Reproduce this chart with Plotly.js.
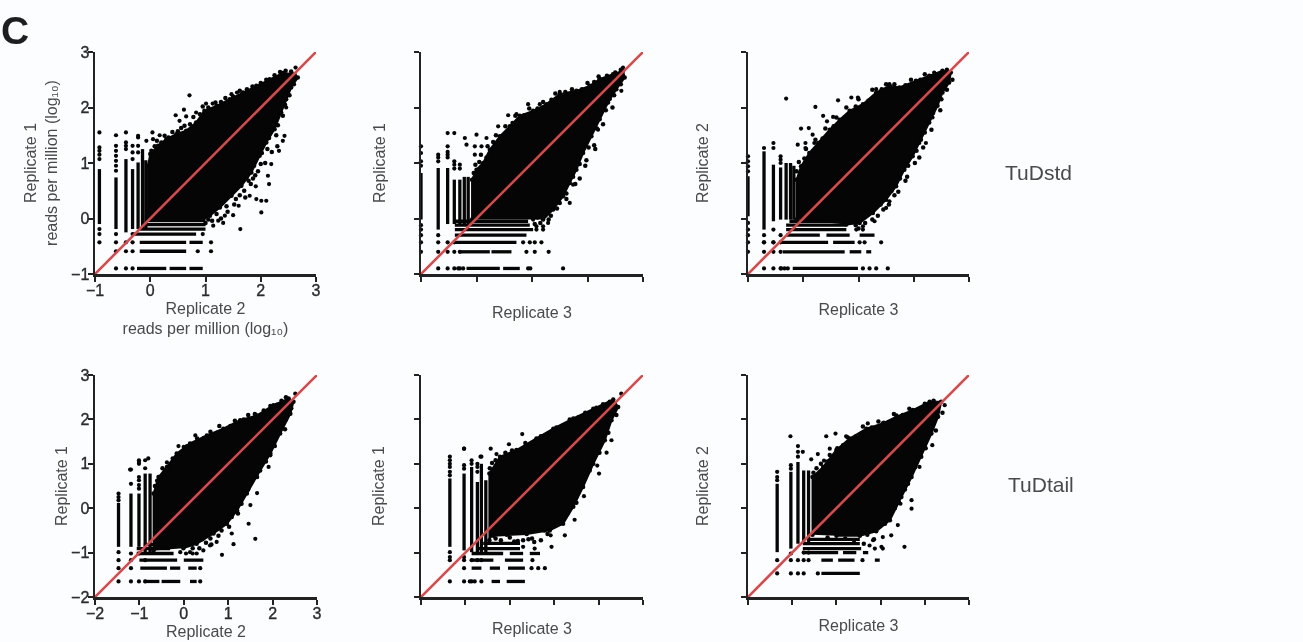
<!DOCTYPE html>
<html><head><meta charset="utf-8">
<script src="https://cdn.plot.ly/plotly-3.0.1.min.js"></script>
<style>html,body{margin:0;padding:0;background:#fcfdfe}#g{filter:blur(0.5px)}
#g g[class$="tick"] text{stroke:#2b2b2b;stroke-width:.35px}</style></head>
<body><div id="g" style="width:1303px;height:642px"></div>
<script>
// TuDstd, Replicate 1 vs Replicate 2
const p1BlobX=[-0.04,-0.04,0,0.14,0.29,0.47,0.65,0.83,0.98,1.2,1.44,1.68,1.92,2.16,2.4,2.61,2.67,2.55,2.46,2.37,2.25,2.1,1.98,1.83,1.65,1.47,1.26,1.08,0.95];
const p1BlobY=[-0.02,0.95,1.16,1.31,1.43,1.52,1.58,1.73,1.94,2.03,2.15,2.27,2.39,2.51,2.62,2.6,2.54,2.36,2.15,1.91,1.61,1.37,1.13,0.83,0.59,0.41,0.2,0.05,-0.02];
const p1EdgeX=[0.02,0.08,0.12,0.2,0.26,0.33,0.4,0.5,0.56,0.62,0.72,0.78,0.9,0.95,1.05,1.18,1.28,1.36,1.5,1.62,1.75,1.85,2,2.1,2.25,2.35,2.45,2.55,2.6,2.52,2.44,2.4,2.31,2.28,2.15,2.12,2.02,2,1.88,1.86,1.75,1.7,1.58,1.55,1.42,1.38,1.3,1.2,1.12,1.05,1.28,1.95,1.72,1.52,1.4,1.82,2.2,2.08,2.3,1.12,1,1.62,1.78,1.9];
const p1EdgeY=[1.22,1.3,1.4,1.37,1.49,1.46,1.56,1.57,1.63,1.67,1.7,1.83,1.88,2.02,2,2.09,2.1,2.17,2.2,2.3,2.33,2.38,2.44,2.5,2.58,2.64,2.66,2.65,2.42,2.22,2.05,1.85,1.68,1.5,1.45,1.25,1.18,0.98,0.95,0.72,0.75,0.5,0.6,0.35,0.42,0.22,0.28,0.08,0.16,-0.02,0,0.85,0.38,0.25,0.12,0.62,1.2,1,1.3,-0.04,-0.08,0.42,0.68,0.78];
const p1ColX=[-0.92,-0.92,null,-0.62,-0.62,null,-0.44,-0.44,null,-0.32,-0.32,null,-0.22,-0.22,null,-0.14,-0.14,null,-0.08,-0.08];
const p1ColY=[0.89,-0.1,null,0.74,-0.19,null,1.07,-0.25,null,0.89,-0.19,null,1.01,-0.19,null,1.25,-0.19,null,1.05,-0.19];
const p1RowX=[-0.24,0.29,null,0.35,0.65,null,0.71,0.95,null,-0.19,0.65,null,-0.19,0.65,null,0.71,0.95,null,-0.31,0.83,null,-0.19,1,null,-0.13,1,null,-0.07,1];
const p1RowY=[-0.9,-0.9,null,-0.9,-0.9,null,-0.9,-0.9,null,-0.59,-0.59,null,-0.43,-0.43,null,-0.43,-0.43,null,-0.28,-0.28,null,-0.19,-0.19,null,-0.11,-0.11,null,-0.04,-0.04];
const p1DotX=[-0.92,-0.92,-0.92,-0.92,-0.92,-0.92,-0.92,-0.92,-0.62,-0.62,-0.62,-0.62,-0.62,-0.62,-0.62,-0.62,-0.62,-0.62,-0.62,-0.44,-0.44,-0.44,-0.44,-0.44,-0.44,-0.44,-0.32,-0.32,-0.32,-0.32,-0.32,-0.32,-0.32,-0.22,-0.22,-0.22,0.86,1.1,1.1,0.95,0.71,0.61,0.46,0.83,0.53,0.65,1.01,1.13,1.57,1.47,2.4,2.43,2.33,2.19,2.13,2.15,1.91,1.8,1.92,2.01,2.1,2.01,1.63,1.6,1.5,1.35,1.32,1.14,1.23,2.46,2.63,0.05,-0.07,0.04,0.17,-0.22];
const p1DotY=[1.55,1.28,1.22,1.15,1.07,-0.19,-0.28,-0.43,1.5,1.31,1.22,1.13,1.04,0.95,0.86,-0.28,-0.43,-0.59,-0.9,1.55,1.37,1.31,1.25,-0.43,-0.59,-0.9,-0.28,1.31,1.19,1.07,-0.43,-0.59,-0.9,1.49,1.31,1.19,-0.59,-0.59,-0.43,-0.28,2.22,1.96,1.86,1.91,1.76,1.84,2.07,2.07,2.27,2.24,1.4,1.49,1.22,0.98,0.77,0.62,0.58,0.41,0.35,0.32,0.32,0.11,-0.19,0.23,0.06,0.05,-0.08,-0.13,-0.04,2,2.72,1.43,1.4,1.55,1.5,1.46];

// TuDstd, Replicate 1 vs Replicate 3
const p2BlobX=[-0.08,-0.08,0,0.12,0.24,0.42,0.6,0.78,1.02,1.26,1.5,1.8,2.04,2.22,2.46,2.64,2.67,2.52,2.37,2.22,2.07,1.92,1.8,1.68,1.56,1.38,1.2];
const p2BlobY=[-0.02,0.7,0.88,1,1.24,1.48,1.66,1.85,1.94,2.06,2.24,2.3,2.39,2.51,2.6,2.66,2.54,2.33,2.09,1.79,1.48,1.18,0.88,0.64,0.4,0.16,-0.02];
const p2EdgeX=[-0.05,-0.02,0.05,0.08,0.18,0.2,0.3,0.35,0.48,0.52,0.65,0.7,0.86,0.95,1.1,1.2,1.35,1.42,1.6,1.72,1.9,2,2.12,2.2,2.35,2.5,2.6,2.6,2.48,2.45,2.33,2.28,2.17,2.12,2.02,1.98,1.86,1.86,1.74,1.62,1.55,1.5,1.42,1.34,1.25,1.15,1.1,1.78,1.62,1.45,1.96,2.14,1.3,1.05];
const p2EdgeY=[0.82,0.97,1.02,1.15,1.1,1.3,1.38,1.5,1.45,1.66,1.72,1.85,1.86,1.98,1.98,2.1,2.14,2.25,2.28,2.33,2.33,2.44,2.46,2.56,2.57,2.63,2.68,2.42,2.22,2,1.95,1.7,1.62,1.32,1.28,1.05,0.98,0.72,0.75,0.45,0.52,0.28,0.3,0.05,0.1,-0.08,0.02,0.62,0.35,0.18,0.95,1.25,-0.02,-0.1];
const p2ColX=[-1,-1,null,-0.69,-0.69,null,-0.52,-0.52,null,-0.4,-0.4,null,-0.3,-0.3,null,-0.22,-0.22,null,-0.15,-0.15];
const p2ColY=[0.82,-0.02,null,0.91,-0.2,null,0.91,-0.1,null,0.7,-0.1,null,0.7,-0.1,null,0.75,-0.1,null,0.75,-0.1];
const p2RowX=[-0.18,0.42,null,0.48,0.78,null,-0.3,0.24,null,0.27,0.63,null,-0.39,0.72,null,-0.39,0.9,null,-0.39,1.02,null,-0.39,0.96,null,-0.39,0.93];
const p2RowY=[-0.9,-0.9,null,-0.9,-0.9,null,-0.6,-0.6,null,-0.6,-0.6,null,-0.43,-0.43,null,-0.3,-0.3,null,-0.2,-0.2,null,-0.12,-0.12,null,-0.05,-0.05];
const p2DotX=[-1,-1,-1,-1,-1,-1,-1,-1,-1,-0.69,-0.69,-0.69,-0.69,-0.69,-0.69,-0.69,-0.52,-0.52,-0.52,-0.52,-0.52,-0.52,-0.52,-0.4,-0.4,-0.4,-0.4,-0.4,-0.4,-0.3,-0.3,-0.3,-0.3,-0.33,-0.24,0.93,0.97,1.56,0.9,1.05,1.3,0.84,0.96,1.05,1.17,1.08,1.2,-0.52,-0.4,0,-0.21,0.93,1.14,1.5,0.57,0.72,0.39,0.18,1.68,1.74,1.2,1.29,1.02,1.08,2.19,2.4,2.61,2.64,2.22,-0.03,-0.18,-0.03,0.09];
const p2DotY=[1.3,1.18,1.03,0.95,-0.12,-0.2,-0.3,-0.43,-0.6,1.15,1.1,1.03,-0.3,-0.43,-0.6,-0.9,1.3,1.2,1.15,1.1,-0.43,-0.6,-0.9,1.03,0.97,0.9,-0.43,-0.6,-0.9,0.97,0.9,-0.6,-0.9,-0.9,-0.9,-0.9,-0.9,-0.9,-0.6,-0.6,-0.6,-0.43,-0.43,-0.43,-0.43,-0.2,-0.2,1.54,1.54,1.51,1.45,2.06,2.06,2.28,1.86,1.88,1.66,1.45,0.28,0.61,-0.14,-0.08,-0.02,-0.14,1.6,2.15,2.3,2.72,2.52,1.3,1.33,1.15,1.3];

// TuDstd, Replicate 2 vs Replicate 3
const p3BlobX=[-0.12,-0.12,-0.04,0.11,0.27,0.48,0.66,0.84,1.08,1.32,1.56,1.74,2.04,2.28,2.52,2.67,2.64,2.52,2.43,2.28,2.13,1.98,1.83,1.68,1.5,1.26,1.02,0.78];
const p3BlobY=[-0.02,0.7,0.94,1.18,1.36,1.6,1.78,1.94,2.06,2.27,2.39,2.36,2.48,2.57,2.66,2.63,2.45,2.27,2.03,1.73,1.42,1.12,0.88,0.58,0.34,0.1,-0.08,-0.11];
const p3EdgeX=[-0.12,-0.08,0.02,0.05,0.18,0.22,0.35,0.4,0.55,0.6,0.75,0.78,0.95,1,1.18,1.25,1.42,1.5,1.65,1.85,1.95,2.12,2.2,2.4,2.6,2.7,2.6,2.5,2.48,2.35,2.32,2.2,2.17,2.05,2.02,1.9,1.88,1.75,1.72,1.6,1.55,1.4,1.35,1.2,1.12,0.95,1.65,1.45,1.85,2.1,1.25,1];
const p3EdgeY=[0.85,1.02,1.08,1.25,1.22,1.42,1.44,1.62,1.66,1.82,1.82,2,2.02,2.15,2.12,2.32,2.33,2.42,2.42,2.4,2.5,2.5,2.6,2.6,2.68,2.5,2.32,2.15,1.95,1.9,1.6,1.55,1.28,1.22,1,0.95,0.75,0.72,0.48,0.5,0.25,0.25,0.05,0.1,-0.08,-0.12,0.42,0.16,0.68,1.1,-0.02,-0.18];
const p3ColX=[-1,-1,null,-0.71,-0.71,null,-0.54,-0.54,null,-0.41,-0.41,null,-0.31,-0.31,null,-0.23,-0.23,null,-0.17,-0.17];
const p3ColY=[0.76,0.04,null,1.21,-0.2,null,0.97,-0.05,null,0.92,-0.02,null,1,-0.02,null,1,-0.02,null,0.95,-0.02];
const p3RowX=[-0.19,0.99,null,-0.37,0.75,null,0.84,1.05,null,1.14,1.23,null,-0.43,0.45,null,0.54,0.93,null,-0.31,0.3,null,0.42,0.84,null,1.02,1.29,null,-0.31,0.78,null,-0.31,0.78,null,-0.25,0.78];
const p3RowY=[-0.9,-0.9,null,-0.6,-0.6,null,-0.6,-0.6,null,-0.6,-0.6,null,-0.43,-0.43,null,-0.43,-0.43,null,-0.3,-0.3,null,-0.3,-0.3,null,-0.3,-0.3,null,-0.2,-0.2,null,-0.12,-0.12,null,-0.05,-0.05];
const p3DotX=[-1,-1,-1,-1,-1,-1,-1,-1,-1,-0.71,-0.71,-0.71,-0.71,-0.71,-0.54,-0.54,-0.54,-0.54,-0.54,-0.54,-0.41,-0.41,-0.41,-0.41,-0.41,-0.41,-0.41,-0.4,-0.34,-0.28,1.08,1.2,1.32,1.53,-0.71,-0.54,1.02,1.11,1.41,0.96,1.08,-0.31,0.22,0.63,0.87,0.99,0.36,0.54,0.43,-0.04,0.1,-0.1,0.04,0.04,0.2,0.17,1.32,1.56,2.37,2.64,2.1,2.22,1.56,1.5,1.29,1.08,2.34];
const p3DotY=[1.12,1.03,0.94,0.85,-0.08,-0.2,-0.3,-0.43,-0.6,1.27,-0.3,-0.43,-0.6,-0.9,1.36,1.27,-0.2,-0.43,-0.6,-0.9,1.12,1.06,1,-0.3,-0.43,-0.6,-0.9,-0.9,-0.9,-0.9,-0.9,-0.9,-0.9,-0.9,-0.43,-0.43,-0.43,-0.43,-0.43,-0.2,-0.2,2.16,2.01,2.13,2.18,2.18,1.85,1.83,1.75,1.62,1.63,1.33,1.36,1.27,1.36,1.51,2.33,2.42,2.63,2.63,1.36,1.36,0.31,0.19,-0.05,-0.14,1.82];

// TuDtail, Replicate 1 vs Replicate 2
const p4BlobX=[-0.68,-0.68,-0.57,-0.38,-0.16,0.14,0.52,0.89,1.27,1.65,2.02,2.36,2.47,2.4,2.17,1.95,1.72,1.42,1.2,0.97,0.67,0.29,-0.01];
const p4BlobY=[-0.95,0.33,0.7,0.93,1.23,1.46,1.64,1.79,1.98,2.09,2.32,2.47,2.4,2.13,1.68,1.23,0.85,0.33,-0.05,-0.35,-0.57,-0.8,-0.9];
const p4EdgeX=[-0.65,-0.6,-0.5,-0.48,-0.3,-0.25,-0.08,0,0.2,0.3,0.45,0.6,0.75,0.8,1.05,1.15,1.35,1.45,1.6,1.8,1.95,2.1,2.2,2.3,2.42,2.3,2.28,2.1,2.05,1.92,1.85,1.72,1.65,1.52,1.45,1.35,1.3,1.15,1.08,0.95,0.85,0.72,0.6,0.42,0.2,0.1,1.02,0.78,0.5,1.22,0.35,0.62];
const p4EdgeY=[0.5,0.62,0.72,0.9,0.92,1.12,1.22,1.38,1.42,1.57,1.58,1.72,1.7,1.85,1.85,1.97,2,2.1,2.12,2.2,2.3,2.33,2.42,2.5,2.25,2,1.78,1.7,1.4,1.35,1.05,1,0.7,0.65,0.42,0.35,0.1,0.05,-0.2,-0.2,-0.5,-0.42,-0.68,-0.7,-0.9,-0.8,-0.42,-0.62,-0.78,-0.12,-0.9,-0.82];
const p4ColX=[-1.47,-1.47,null,-1.19,-1.19,null,-1.01,-1.01,null,-0.87,-0.87,null,-0.76,-0.76];
const p4ColY=[0.12,-0.87,null,0.33,-0.87,null,0.33,-0.87,null,0.78,-0.99,null,0.78,-0.99];
const p4RowX=[-0.9,-0.55,null,-0.5,-0.08,null,0.14,0.29,null,-0.98,-0.38,null,-0.31,-0.08,null,0.1,0.29,null,-1,-0.15,null,0,0.44,null,-1.06,-0.23,null,-1.06,-0.31,null,-0.9,-0.3];
const p4RowY=[-1.65,-1.65,null,-1.65,-1.65,null,-1.65,-1.65,null,-1.35,-1.35,null,-1.35,-1.35,null,-1.35,-1.35,null,-1.17,-1.17,null,-1.17,-1.17,null,-1.02,-1.02,null,-0.91,-0.91,null,-0.82,-0.82];
const p4DotX=[-1.47,-1.47,-1.47,-1.47,-1.47,-1.47,-1.47,-1.19,-1.19,-1.19,-1.19,-1.19,-1.19,-1.01,-1.01,-1.01,-1.01,-1.01,-1.01,-1.01,-1.01,-0.87,-0.87,-0.87,-0.87,0.37,0.37,-1.21,-1.01,-0.8,-0.38,-0.12,0.07,0.26,1.61,1.12,0.86,1.46,1.08,1.65,1.95,1.91,2.51,1.5,0.74,0.59,0.29,0.14,-0.08,0.44,0.05,0.2];
const p4DotY=[0.33,0.25,0.18,-0.99,-1.17,-1.35,-1.65,0.87,0.55,-1.02,-1.17,-1.35,-1.65,1.08,1,0.7,0.63,0.52,0.44,-1.02,-1.65,1.08,0.9,-1.17,-1.65,-1.65,-1.35,0.87,1.04,1.12,1.03,1.4,1.4,1.64,-0.69,-0.81,-1.05,-0.35,-0.57,0.34,1.19,0.93,2.58,0.07,-0.76,-0.84,-1.02,-0.99,-0.99,-0.95,-1.02,-1.02];

// TuDtail, Replicate 1 vs Replicate 3
const p5BlobX=[-0.46,-0.46,-0.22,0.15,0.6,0.98,1.43,1.88,2.33,2.44,2.29,2.14,1.88,1.65,1.43,1.2,0.9,0.38,-0.07,-0.37];
const p5BlobY=[-0.72,0.78,1.16,1.31,1.57,1.79,2.02,2.24,2.45,2.28,1.98,1.53,1,0.48,0.03,-0.35,-0.5,-0.58,-0.6,-0.62];
const p5EdgeX=[-0.45,-0.4,-0.32,-0.15,-0.1,0.05,0.25,0.35,0.5,0.7,0.85,1.05,1.2,1.35,1.55,1.7,1.95,2.1,2.25,2.4,2.2,2.22,2.05,2.02,1.85,1.8,1.62,1.58,1.42,1.38,1.3,1.15,1.05,0.95,0.78,0.7,0.5,0.3,0.1,-0.2,0,0.18,0.42,0.55,-0.32,1.1,0.85,1.5];
const p5EdgeY=[0.9,1.02,1.08,1.12,1.25,1.3,1.3,1.47,1.45,1.62,1.67,1.82,1.86,2,2.05,2.15,2.26,2.34,2.4,2.1,1.95,1.7,1.58,1.25,1.15,0.85,0.72,0.42,0.3,0.08,-0.12,-0.1,-0.3,-0.42,-0.5,-0.72,-0.68,-0.72,-0.75,-0.72,-0.66,-0.74,-0.7,-0.76,-0.68,-0.26,-0.58,0.12];
const p5ColX=[-1.35,-1.35,null,-1.03,-1.03,null,-0.86,-0.86,null,-0.73,-0.73,null,-0.64,-0.64,null,-0.54,-0.54];
const p5ColY=[0.67,-0.87,null,0.78,-0.95,null,0.93,-0.99,null,0.59,-0.99,null,1,-0.99,null,0.63,-0.99];
const p5RowX=[-0.41,-0.22,null,-0.07,0.34,null,-0.86,-0.64,null,-0.45,-0.22,null,-0.04,0.34,null,-0.86,-0.37,null,-0.11,0.3,null,-0.86,-0.15,null,0,0.3,null,0.45,0.68,null,-0.75,0.23,null,-0.6,0.23];
const p5RowY=[-1.65,-1.65,null,-1.65,-1.65,null,-1.35,-1.35,null,-1.35,-1.35,null,-1.35,-1.35,null,-1.17,-1.17,null,-1.17,-1.17,null,-1.02,-1.02,null,-1.02,-1.02,null,-1.02,-1.02,null,-0.91,-0.91,null,-0.79,-0.79];
const p5DotX=[-1.35,-1.35,-1.35,-1.35,-1.35,-1.35,-1.35,-1.35,-1.35,-1.35,-1.03,-1.03,-1.03,-1.03,-1.03,-1.03,-1.03,-0.86,-0.86,-0.86,-0.86,-0.73,-0.73,-0.73,-0.73,-0.64,-0.64,-0.9,-0.79,-0.64,0.49,0.64,0.79,0.51,0.28,-0.02,-0.43,-1.03,-0.66,-0.3,2.51,2.29,2.18,2.01,1.97,1.67,1.46,1.28,1.24,0.94,0.92,0.56,0.3,-0.34];
const p5DotY=[1.16,1.08,1,0.93,0.82,0.74,-0.99,-1.1,-1.17,-1.65,1.34,0.97,0.89,-1.1,-1.17,-1.35,-1.65,1.08,1,-1.17,-1.65,1,0.93,0.82,-1.17,1.16,-1.17,-1.65,-1.65,-1.65,-1.35,-1.35,-1.35,-1.17,1.67,1.44,1.34,1.34,1.16,1.22,2.58,1.53,1.25,0.78,0.96,0.27,-0.26,-0.06,-0.61,-0.87,-0.61,-0.91,-0.87,0.74];

// TuDtail, Replicate 2 vs Replicate 3
const p6BlobX=[-0.54,-0.54,-0.3,0,0.3,0.68,1.05,1.36,1.73,2.11,2.37,2.3,2.15,1.92,1.7,1.47,1.21,0.9,0.53,0];
const p6BlobY=[-0.6,0.7,0.93,1.31,1.57,1.79,1.91,2.06,2.21,2.4,2.4,2.06,1.68,1.16,0.7,0.25,-0.27,-0.52,-0.62,-0.62];
const p6EdgeX=[-0.52,-0.45,-0.35,-0.2,-0.15,0.02,0.15,0.25,0.45,0.6,0.8,0.95,1.15,1.3,1.5,1.65,1.85,2,2.2,2.4,2.2,2.25,2.05,2.02,1.8,1.78,1.58,1.55,1.35,1.32,1.12,1.1,0.95,0.85,0.7,0.62,0.4,1.42,1.62,0.2,-0.2];
const p6EdgeY=[0.8,0.9,1,1.05,1.2,1.35,1.42,1.6,1.62,1.84,1.82,1.95,1.92,2.12,2.1,2.24,2.22,2.35,2.42,2.15,2,1.75,1.6,1.35,1.2,0.92,0.7,0.42,0.25,0,-0.05,-0.35,-0.4,-0.7,-0.6,-0.8,-0.78,0.12,0.55,-0.68,-0.66];
const p6ColX=[-1.34,-1.34,null,-1.03,-1.03,null,-0.87,-0.87,null,-0.74,-0.74,null,-0.63,-0.63];
const p6ColY=[0.55,-0.99,null,0.82,-0.91,null,1.04,-0.8,null,0.85,-0.8,null,0.85,-0.8];
const p6RowX=[-0.34,0.53,null,-0.34,-0.08,null,0.04,0.41,null,0.87,0.98,null,-0.76,0.04,null,0.15,0.45,null,0.6,0.72,null,-0.76,0.56,null,-0.76,0.53,null,-0.6,0.53];
const p6RowY=[-1.47,-1.47,null,-1.17,-1.17,null,-1.17,-1.17,null,-1.17,-1.17,null,-1,-1,null,-1,-1,null,-1,-1,null,-0.91,-0.91,null,-0.8,-0.8,null,-0.7,-0.7];
const p6DotX=[-1.34,-1.34,-1.34,-1.34,-1.34,-1.03,-1.03,-1.03,-1.03,-1.03,-0.87,-0.87,-0.87,-0.87,-0.87,-0.74,-0.74,-0.74,-0.63,-0.63,-0.42,0.59,0.87,1.05,-1.04,-0.23,-0.02,0.22,0.71,1.07,1.36,-0.76,-0.42,-0.15,-0.57,-0.28,2.45,2.17,1.88,1.7,1.7,1.45,1.39,1.54,1.24,1.05,0.83,1.02,0.75];
const p6DotY=[0.82,0.7,-1.17,-1.47,0.63,0.97,0.89,-1.02,-1.17,-1.47,1.4,1.27,1.16,-1.17,-1.47,-1,-1.17,-1.47,-1,-1.17,-1.47,-1.17,-0.91,-0.91,1.62,1.62,1.68,1.62,1.91,1.93,2.09,1.27,1.22,1.34,1.1,1.07,2.32,1.42,0.93,0.18,-0.01,0.1,-0.38,-0.87,-0.61,-0.65,-0.72,-0.87,-0.84];

const xTitles=["Replicate 2<br>reads per million (log₁₀)","Replicate 3","Replicate 3","Replicate 2","Replicate 3","Replicate 3"];
const yTitles=["Replicate 1<br>reads per million (log₁₀)","Replicate 1","Replicate 2","Replicate 1","Replicate 1","Replicate 2"];
const rowLabels=["TuDstd","TuDtail"];
const panelLetter="C";
const rangeTop=[-1,3], rangeBottom=[-2,3];

const blobs=[[p1BlobX,p1BlobY],[p2BlobX,p2BlobY],[p3BlobX,p3BlobY],[p4BlobX,p4BlobY],[p5BlobX,p5BlobY],[p6BlobX,p6BlobY]];
const edges=[[p1EdgeX,p1EdgeY],[p2EdgeX,p2EdgeY],[p3EdgeX,p3EdgeY],[p4EdgeX,p4EdgeY],[p5EdgeX,p5EdgeY],[p6EdgeX,p6EdgeY]];
const cols=[[p1ColX,p1ColY],[p2ColX,p2ColY],[p3ColX,p3ColY],[p4ColX,p4ColY],[p5ColX,p5ColY],[p6ColX,p6ColY]];
const rows=[[p1RowX,p1RowY],[p2RowX,p2RowY],[p3RowX,p3RowY],[p4RowX,p4RowY],[p5RowX,p5RowY],[p6RowX,p6RowY]];
const dots=[[p1DotX,p1DotY],[p2DotX,p2DotY],[p3DotX,p3DotY],[p4DotX,p4DotY],[p5DotX,p5DotY],[p6DotX,p6DotY]];

const W=1303,H=642,ink='#050505',grey='#4a4a4a';
const boxes=[[95,316,52,274],[421,643,52,274],[748,969,52,274],[95,317,375,597],[421,643,375,597],[748,969,375,597]];
const xStand=[5,27,24,5,20,17], yStand=[10,24,28,0,25,28];
const layout={width:W,height:H,margin:{l:0,r:0,t:0,b:0},showlegend:false,paper_bgcolor:'#fcfdfe',plot_bgcolor:'#fcfdfe',
  font:{family:'"Liberation Sans",Arial,sans-serif',color:grey},
  annotations:[
   {xref:'paper',yref:'paper',x:1038/W,y:1-172/H,xanchor:'center',yanchor:'middle',text:rowLabels[0],showarrow:false,font:{size:21,color:grey}},
   {xref:'paper',yref:'paper',x:1041/W,y:1-484/H,xanchor:'center',yanchor:'middle',text:rowLabels[1],showarrow:false,font:{size:21,color:grey}},
   {xref:'paper',yref:'paper',x:15/W,y:1-31/H,xanchor:'center',yanchor:'middle',text:'<b>'+panelLetter+'</b>',showarrow:false,font:{size:39,color:'#1e1e1e'}}
  ]};
const data=[];
boxes.forEach((b,i)=>{
  const n=i===0?'':String(i+1), xa='x'+n, ya='y'+n, rng=i<3?rangeTop:rangeBottom, lab=i===0||i===3;
  const ax=(title,stand,off)=>({range:rng,tickmode:'linear',tick0:rng[0],dtick:1,ticks:'outside',ticklen:5,tickwidth:2,tickcolor:'#222',
    showline:true,linewidth:2.5,linecolor:'#222',showgrid:false,zeroline:false,showticklabels:lab,ticklabelstandoff:off,
    tickfont:{size:16,color:'#2b2b2b',family:'"Liberation Sans",Arial,sans-serif'},
    title:{text:title,standoff:stand,font:{size:16,color:grey}},automargin:false});
  layout['xaxis'+n]=Object.assign(ax(xTitles[i],xStand[i],-5),{domain:[b[0]/W,b[1]/W],anchor:ya});
  layout['yaxis'+n]=Object.assign(ax(yTitles[i],yStand[i],-5),{domain:[1-b[3]/H,1-b[2]/H],anchor:xa});
  data.push({type:'scatter',xaxis:xa,yaxis:ya,x:blobs[i][0],y:blobs[i][1],mode:'lines+markers',fill:'toself',fillcolor:ink,line:{color:ink,width:2},marker:{color:ink,size:4.5},cliponaxis:false,hoverinfo:'skip'});
  data.push({type:'scatter',xaxis:xa,yaxis:ya,x:edges[i][0],y:edges[i][1],mode:'markers',marker:{color:ink,size:4.5},cliponaxis:false,hoverinfo:'skip'});
  data.push({type:'scatter',xaxis:xa,yaxis:ya,x:cols[i][0],y:cols[i][1],mode:'lines',line:{color:ink,width:3.3},connectgaps:false,cliponaxis:false,hoverinfo:'skip'});
  data.push({type:'scatter',xaxis:xa,yaxis:ya,x:rows[i][0],y:rows[i][1],mode:'lines',line:{color:ink,width:3.3},connectgaps:false,cliponaxis:false,hoverinfo:'skip'});
  data.push({type:'scatter',xaxis:xa,yaxis:ya,x:dots[i][0],y:dots[i][1],mode:'markers',marker:{color:ink,size:4.2},cliponaxis:false,hoverinfo:'skip'});
  data.push({type:'scatter',xaxis:xa,yaxis:ya,x:rng,y:rng,mode:'lines',line:{color:'#d8494c',width:2.6},cliponaxis:false,hoverinfo:'skip'});
});
Plotly.newPlot('g',data,layout,{displayModeBar:false,staticPlot:true});
</script></body></html>
